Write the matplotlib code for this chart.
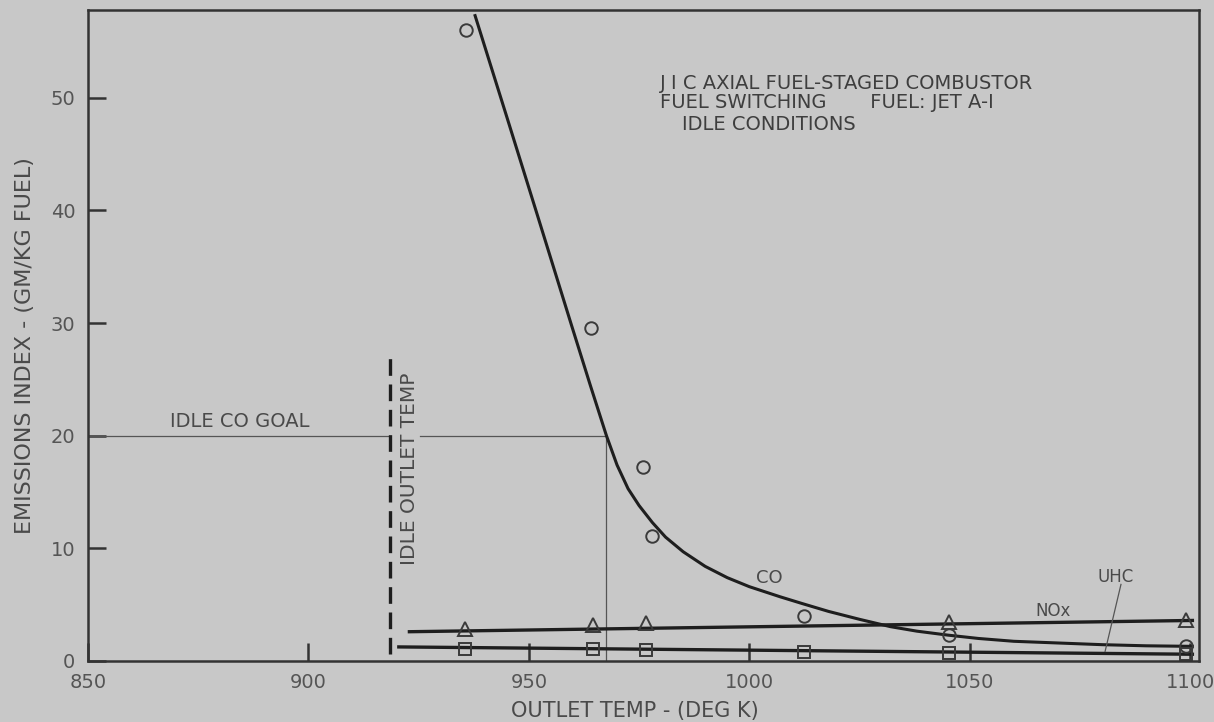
import matplotlib
matplotlib.use("Agg")
import matplotlib.pyplot as plt

# ---- data ----
co_temp = [935.8, 964.2, 976.0, 978.0, 1012.3, 1045.2, 1099.0]
co_ei = [56.0, 29.6, 17.2, 11.1, 4.0, 2.3, 1.3]

nox_temp = [935.5, 964.5, 976.5, 1045.2, 1099.0]
nox_ei = [2.8, 3.2, 3.4, 3.5, 3.6]

uhc_temp = [935.5, 964.5, 976.5, 1012.3, 1045.2, 1099.0]
uhc_ei = [1.1, 1.1, 1.0, 0.8, 0.7, 0.6]

co_curve_temp = [937.8, 945.0, 952.0, 959.6, 964.0, 967.6, 970.0, 972.5, 975.0,
                 978.0, 981.0, 985.0, 990.0, 995.0, 1000.0, 1007.0, 1012.0,
                 1018.0, 1025.0, 1032.0, 1038.0, 1045.0, 1052.0, 1060.0,
                 1070.0, 1080.0, 1090.0, 1100.5]
co_curve_ei = [57.3, 48.3, 39.5, 29.9, 24.4, 20.0, 17.4, 15.3, 13.8,
               12.3, 11.0, 9.7, 8.4, 7.4, 6.6, 5.7, 5.1,
               4.4, 3.7, 3.05, 2.65, 2.3, 2.0, 1.75,
               1.6, 1.45, 1.35, 1.3]

nox_fit_temp = [922.9, 1100.5]
nox_fit_ei = [2.6, 3.6]

uhc_fit_temp = [920.5, 1100.5]
uhc_fit_ei = [1.25, 0.6]

idle_co_goal = 20.0
idle_outlet_temp = 918.6
goal_temp = 967.6

x_ticks = [850, 900, 950, 1000, 1050, 1100]
y_ticks = [0, 10, 20, 30, 40, 50]

# ---- styling ----
BG = "#c8c8c8"
INK = "#1e1e1e"
TXT = "#4a4a4a"

fig = plt.figure(figsize=(12.14, 7.22), dpi=100, facecolor=BG)
ax = fig.add_axes([88 / 1214, 61 / 722, 1111 / 1214, 651 / 722])
ax.set_facecolor(BG)
ax.set_xlim(850, 1102)
ax.set_ylim(0, 57.8)

for s in ax.spines.values():
    s.set_color("#333333")
    s.set_linewidth(1.8)

ax.set_xticks(x_ticks)
ax.set_yticks(y_ticks)
ax.tick_params(axis="both", direction="in", length=13, width=1.8, color="#333333",
               labelsize=14, labelcolor="#555555", pad=9)

# goal reference lines
ax.plot([850, idle_outlet_temp], [idle_co_goal, idle_co_goal], color="#555555", lw=0.9)
ax.plot([925.2, goal_temp], [idle_co_goal, idle_co_goal], color="#555555", lw=0.9)
ax.plot([goal_temp, goal_temp], [0, idle_co_goal], color="#555555", lw=0.9)

# idle outlet temp dashed line
ax.plot([idle_outlet_temp, idle_outlet_temp], [0.6, 27.2], color=INK, lw=2.4,
        linestyle=(0, (5, 2.6)))

# fitted curves
ax.plot(co_curve_temp, co_curve_ei, color=INK, lw=2.2, solid_joinstyle="round")
ax.plot(nox_fit_temp, nox_fit_ei, color=INK, lw=2.4)
ax.plot(uhc_fit_temp, uhc_fit_ei, color=INK, lw=2.4)

# data markers
ax.plot(co_temp, co_ei, linestyle="none", marker="o", ms=9, mfc="none",
        mec="#3a3a3a", mew=1.4)
ax.plot(nox_temp, nox_ei, linestyle="none", marker="^", ms=10, mfc="none",
        mec="#3a3a3a", mew=1.4)
ax.plot(uhc_temp, uhc_ei, linestyle="none", marker="s", ms=8, mfc="none",
        mec="#3a3a3a", mew=1.4)

# UHC leader line
ax.plot([1080.7, 1084.3], [0.85, 6.8], color="#555555", lw=0.9)

# texts
ax.text(884.5, 20.4, "IDLE CO GOAL", ha="center", va="bottom", fontsize=14, color=TXT)
ax.text(idle_outlet_temp + 4.4, 17.1, "IDLE OUTLET TEMP", ha="center", va="center",
        rotation=90, fontsize=14.5, color=TXT)
ax.text(1004.6, 7.4, "CO", ha="center", va="center", fontsize=13, color=TXT)
ax.text(1068.8, 4.4, "NOx", ha="center", va="center", fontsize=12, color=TXT)
ax.text(1083.0, 7.5, "UHC", ha="center", va="center", fontsize=12, color=TXT)

ax.text(979.8, 51.3, "J I C AXIAL FUEL-STAGED COMBUSTOR", ha="left", va="center",
        fontsize=14, color="#3e3e3e")
ax.text(979.8, 49.55, "FUEL SWITCHING       FUEL: JET A-I", ha="left", va="center",
        fontsize=14, color="#3e3e3e")
ax.text(984.8, 47.6, "IDLE CONDITIONS", ha="left", va="center",
        fontsize=14, color="#3e3e3e")

ax.set_xlabel("OUTLET TEMP - (DEG K)", fontsize=15, color=TXT)
ax.xaxis.set_label_coords(0.492, -0.062)
ax.set_ylabel("EMISSIONS INDEX - (GM/KG FUEL)", fontsize=16, color=TXT)
ax.yaxis.set_label_coords(-0.048, 0.485)

fig.savefig("out.png", dpi=100, facecolor=BG)
